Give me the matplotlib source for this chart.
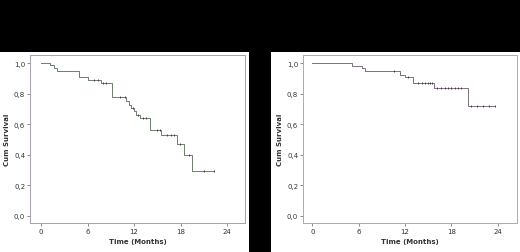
import matplotlib
matplotlib.use("Agg")
import matplotlib.pyplot as plt
import numpy as np
import matplotlib.ticker as ticker
from matplotlib.patches import Rectangle

# Kaplan-Meier curves (months, cumulative survival)
left_steps = [1.15, 1.7, 2.05, 4.9, 6.1, 7.7, 9.1, 11.0, 11.3, 11.6, 12.0, 12.3, 12.8, 14.0, 15.5, 17.5, 18.4, 19.5]
left_surv = [0.99, 0.97, 0.952, 0.908, 0.893, 0.873, 0.776, 0.75, 0.725, 0.705, 0.685, 0.663, 0.642, 0.565, 0.527, 0.474, 0.396, 0.297]
left_censor = [6.8, 7.4, 8.0, 8.4, 10.2, 10.8, 11.8, 12.5, 13.1, 13.5, 15.0, 15.3, 16.2, 16.7, 17.1, 17.9, 19.1, 21.0, 22.3]
left_end = 22.3

right_steps = [5.1, 6.4, 6.8, 11.35, 12.0, 13.0, 15.7, 20.1]
right_surv = [0.982, 0.966, 0.946, 0.925, 0.908, 0.868, 0.84, 0.72]
right_censor = [10.6, 12.4, 13.7, 14.2, 14.6, 15.0, 15.2, 15.5, 16.2, 16.7, 17.2, 17.6, 18.0,
                18.5, 18.9, 19.3, 20.6, 21.3, 22.1, 22.9, 23.6]
right_end = 23.6

xticks = [0, 6, 12, 18, 24]
yticks = [0.0, 0.2, 0.4, 0.6, 0.8, 1.0]


def surv_at(t, steps, surv):
    s = 1.0
    for st, sv in zip(steps, surv):
        if t >= st:
            s = sv
    return s


def km_panel(ax, steps, surv, censor, t_end, line_col, frame_col, xlim):
    xs = [0] + list(steps) + [t_end]
    ys = [1.0] + list(surv) + [surv[-1]]
    ax.step(xs, ys, where="post", color=line_col, lw=0.7)
    cy = [surv_at(c, steps, surv) for c in censor]
    ax.plot(censor, cy, ls="none", marker="|", ms=1.8, mew=0.6, color="#333333")

    ax.set_xlim(xlim)
    ax.set_ylim(-0.046, 1.054)
    ax.set_xticks(xticks)
    ax.set_yticks(yticks)
    ax.yaxis.set_major_formatter(ticker.FuncFormatter(lambda v, p: ("%.1f" % v).replace(".", ",")))
    ax.tick_params(direction="out", length=2, width=0.6, colors="#777777",
                   labelcolor="#333333", labelsize=5, pad=1.5)
    for s in ax.spines.values():
        s.set_linestyle((0, (1, 1)))
        s.set_linewidth(0.7)
        s.set_color(frame_col)
    ax.set_ylabel("Cum Survival", fontsize=5, fontweight="bold", color="#333333", labelpad=3)
    ax.set_xlabel("Time (Months)", fontsize=5, fontweight="bold", color="#333333", labelpad=3)


fig = plt.figure(figsize=(5.2, 2.53), dpi=100, facecolor="black")

# white panels behind the two charts
fig.patches.append(Rectangle((0, 0), 249 / 520, 200 / 253, transform=fig.transFigure,
                             facecolor="white", edgecolor="none", zorder=-10))
fig.patches.append(Rectangle((271 / 520, 0), 249 / 520, 200 / 253, transform=fig.transFigure,
                             facecolor="white", edgecolor="none", zorder=-10))

ax1 = fig.add_axes([30 / 520, 29 / 253, 215 / 520, 168 / 253])
ax2 = fig.add_axes([303 / 520, 29 / 253, 214 / 520, 168 / 253])

km_panel(ax1, left_steps, left_surv, left_censor, left_end, "#6b806b", "#a8a0b0", (-1.42, 26.3))
km_panel(ax2, right_steps, right_surv, right_censor, right_end, "#807080", "#b8a0c0", (-1.2, 26.5))

fig.savefig("out.png", dpi=100, facecolor="black")
